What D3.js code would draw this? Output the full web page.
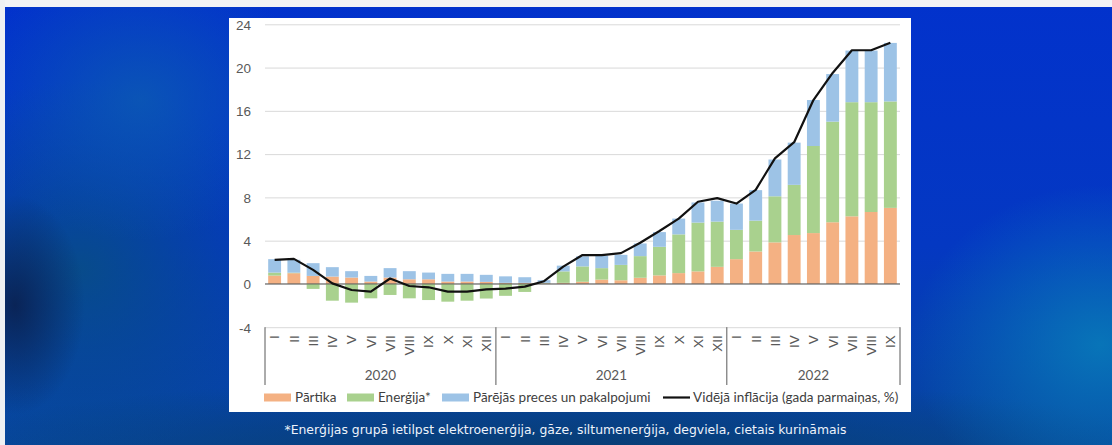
<!DOCTYPE html>
<html>
<head>
<meta charset="utf-8">
<script src="https://cdn.jsdelivr.net/npm/d3@7"></script>
<style>
    html, body { margin: 0; padding: 0; }
    body {
        width: 1112px;
        height: 445px;
        overflow: hidden;
        background:
            radial-gradient(ellipse 70px 110px at 15px 305px, rgba(10, 30, 75, 0.85), rgba(10, 30, 75, 0) 100%),
            radial-gradient(ellipse 170px 140px at 140px 100px, rgba(12, 92, 178, 0.8), rgba(12, 92, 178, 0) 100%),
            radial-gradient(ellipse 210px 190px at 80px 270px, rgba(8, 78, 130, 0.85), rgba(8, 78, 130, 0) 100%),
            radial-gradient(ellipse 190px 160px at 1100px 345px, rgba(8, 122, 185, 0.9), rgba(8, 122, 185, 0) 100%),
            radial-gradient(ellipse 640px 80px at 560px 455px, rgba(8, 60, 110, 0.95), rgba(8, 60, 110, 0) 100%),
            linear-gradient(180deg, #0232cc 0%, #0438c2 55%, #07479e 100%);
        font-family: Lato, "Open Sans", sans-serif;
    }
    .grid line { stroke: #d9d9d9; stroke-width: 1; }
    .grid path { display: none; }
    .y-axis text, .x-axis text { fill: #595959; }
    .legend text { fill: #404040; font-size: 13.5px; }
</style>
</head>
<body>
<svg id="chart" width="1112" height="445"></svg>
<script>
// monthly categories
const monthLabels = ["I", "II", "III", "IV", "V", "VI", "VII", "VIII", "IX", "X", "XI", "XII",
    "I", "II", "III", "IV", "V", "VI", "VII", "VIII", "IX", "X", "XI", "XII",
    "I", "II", "III", "IV", "V", "VI", "VII", "VIII", "IX"];
const years = ["2020", "2021", "2022"];
const yearMonths = [12, 12, 9];

// contributions, percentage points
const food = [0.77, 0.99, 0.74, 0.68, 0.59, 0.22, 0.59, 0.43, 0.43, 0.22, 0.22, 0.19,
    0.10, 0.10, 0.05, 0.10, 0.20, 0.40, 0.34, 0.57, 0.79, 1.00, 1.16, 1.58,
    2.29, 3.00, 3.84, 4.52, 4.70, 5.70, 6.25, 6.65, 7.03];
const energy = [0.28, 0.05, -0.46, -1.55, -1.73, -1.33, -1.02, -1.33, -1.49, -1.64, -1.55, -1.35,
    -1.10, -0.74, 0.05, 1.06, 1.42, 1.06, 1.42, 2.00, 2.64, 3.58, 4.51, 4.18,
    2.71, 2.85, 4.26, 4.64, 8.05, 9.30, 10.55, 10.15, 9.84];
const other = [1.24, 1.19, 1.18, 0.87, 0.59, 0.52, 0.87, 0.75, 0.62, 0.71, 0.71, 0.65,
    0.60, 0.52, 0.25, 0.53, 0.93, 1.14, 0.93, 1.17, 1.36, 1.46, 1.86, 1.93,
    2.43, 2.82, 3.40, 3.90, 4.25, 4.40, 4.77, 4.77, 5.41];
// average inflation, annual change %
const inflation = [2.23, 2.32, 1.30, 0.05, -0.56, -0.71, 0.50, -0.19, -0.31, -0.71, -0.71, -0.50,
    -0.43, -0.25, 0.25, 1.60, 2.67, 2.67, 2.85, 3.81, 4.89, 6.04, 7.60, 7.93,
    7.43, 8.70, 11.60, 13.10, 17.00, 19.50, 21.60, 21.60, 22.30];

const yTicks = [-4, 0, 4, 8, 12, 16, 20, 24];

const seriesKeys = ["food", "energy", "other"];
const seriesNames = ["Pārtika", "Enerģija*", "Pārējās preces un pakalpojumi"];
const lineName = "Vidējā inflācija (gada parmaiņas, %)";
const footnote = "*Enerģijas grupā ietilpst elektroenerģija, gāze, siltumenerģija, degviela, cietais kurināmais";

const colors = { food: "#f4b183", energy: "#a9d18e", other: "#9dc3e6" };

const svg = d3.select("#chart");

// light frame at the top and left of the slide picture
svg.append("rect").attr("x", 0).attr("y", 0).attr("width", 1112).attr("height", 7).attr("fill", "#f2f3f5");
svg.append("rect").attr("x", 0).attr("y", 0).attr("width", 5).attr("height", 445).attr("fill", "#eef0f3");

// white chart panel
svg.append("rect")
    .attr("x", 229).attr("y", 18)
    .attr("width", 682).attr("height", 394)
    .attr("fill", "#ffffff");

const plot = { left: 265, right: 900, top: 24.3, bottom: 327.2 };

const table = monthLabels.map((m, i) => ({
    i: i,
    food: food[i],
    energy: energy[i],
    other: other[i],
    inflation: inflation[i],
}));

const x = d3.scaleBand()
    .domain(table.map((d) => d.i))
    .range([plot.left, plot.right])
    .paddingInner(0.33)
    .paddingOuter(0.165);

const y = d3.scaleLinear().domain([-4, 24]).range([plot.bottom, plot.top]);

// gridlines
svg.append("g")
    .attr("class", "grid")
    .attr("transform", `translate(${plot.left},0)`)
    .call(d3.axisLeft(y).tickValues(yTicks).tickSize(-(plot.right - plot.left)).tickFormat(""));

// y labels
const yAxis = svg.append("g")
    .attr("class", "y-axis")
    .attr("transform", `translate(251,0)`)
    .call(d3.axisLeft(y).tickValues(yTicks).tickSize(0).tickPadding(0).tickFormat((d) => String(d)));
yAxis.select(".domain").remove();
yAxis.selectAll("text").style("font-size", "13.5px").attr("dy", "0.36em");

// stacked bars
const stacked = d3.stack().keys(seriesKeys).offset(d3.stackOffsetDiverging)(table);

svg.append("g")
    .selectAll("g")
    .data(stacked)
    .join("g")
    .attr("fill", (s) => colors[s.key])
    .selectAll("rect")
    .data((s) => s)
    .join("rect")
    .attr("x", (d) => x(d.data.i))
    .attr("width", x.bandwidth())
    .attr("y", (d) => y(Math.max(d[0], d[1])))
    .attr("height", (d) => Math.abs(y(d[0]) - y(d[1])));

// zero axis line
svg.append("line")
    .attr("x1", plot.left).attr("x2", plot.right)
    .attr("y1", y(0)).attr("y2", y(0))
    .attr("stroke", "#595959").attr("stroke-width", 1);

// inflation line
svg.append("path")
    .datum(table)
    .attr("fill", "none")
    .attr("stroke", "#111111")
    .attr("stroke-width", 2.2)
    .attr("stroke-linejoin", "round")
    .attr("d", d3.line()
        .x((d) => x(d.i) + x.bandwidth() / 2)
        .y((d) => y(d.inflation)));

// category axis with rotated roman months
const xAxis = svg.append("g")
    .attr("class", "x-axis")
    .attr("transform", `translate(0,${plot.bottom})`)
    .call(d3.axisBottom(x).tickSize(0).tickFormat((i) => monthLabels[i]));
xAxis.select(".domain").remove();
xAxis.selectAll("text")
    .style("font-size", "13.5px")
    .attr("text-anchor", "end")
    .attr("y", 0)
    .attr("dy", "0.36em")
    .attr("transform", "translate(0,8) rotate(-90)");

// year separators and year labels
let startIdx = 0;
const sepIdx = [0];
years.forEach((yr, k) => {
    const endIdx = startIdx + yearMonths[k];
    sepIdx.push(endIdx);
    const cx = plot.left + (startIdx + endIdx) / 2 * x.step();
    svg.append("text")
        .attr("x", cx)
        .attr("y", 380)
        .attr("text-anchor", "middle")
        .attr("fill", "#595959")
        .style("font-size", "13.5px")
        .text(yr);
    startIdx = endIdx;
});

svg.append("g")
    .selectAll("line")
    .data(sepIdx)
    .join("line")
    .attr("x1", (i) => plot.left + i * x.step())
    .attr("x2", (i) => plot.left + i * x.step())
    .attr("y1", plot.bottom)
    .attr("y2", 385)
    .attr("stroke", "#595959")
    .attr("stroke-width", 1);

// legend
const legend = svg.append("g").attr("class", "legend");
const legendX = [264, 347, 442];
seriesKeys.forEach((k, j) => {
    legend.append("rect")
        .attr("x", legendX[j]).attr("y", 393.5)
        .attr("width", 27).attr("height", 8)
        .attr("fill", colors[k]);
    legend.append("text")
        .attr("x", legendX[j] + 31).attr("y", 402)
        .text(seriesNames[j]);
});
legend.append("line")
    .attr("x1", 663).attr("x2", 690)
    .attr("y1", 397.5).attr("y2", 397.5)
    .attr("stroke", "#111111").attr("stroke-width", 2.2);
legend.append("text")
    .attr("x", 693).attr("y", 402)
    .text(lineName);

// footnote
svg.append("text")
    .attr("x", 565.5)
    .attr("y", 434)
    .attr("text-anchor", "middle")
    .attr("fill", "#eef3fb")
    .style("font-family", "'DejaVu Sans', Verdana, sans-serif")
    .style("font-size", "12.4px")
    .text(footnote);
</script>
</body>
</html>
